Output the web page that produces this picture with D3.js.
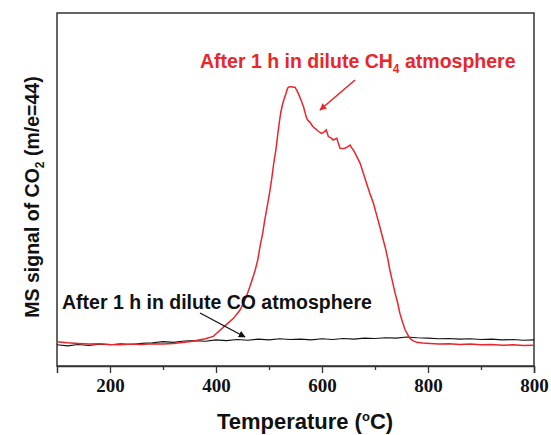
<!DOCTYPE html>
<html>
<head>
<meta charset="utf-8">
<script src="https://cdn.jsdelivr.net/npm/d3@7"></script>
<style>
  body { margin: 0; background: #fff; }
  text { font-family: "Liberation Sans", Arial, sans-serif; font-weight: bold; }
  .tick text { font-family: "Liberation Serif", "Times New Roman", serif; font-weight: bold; }
</style>
</head>
<body>
<script>
// temperature (°C) and MS signal (a.u.)
var ch4Temp = [100, 120, 140, 160, 180, 200, 220, 240, 260, 280, 300, 320, 340, 350, 365, 380, 395, 408,
  420, 433, 445, 452, 458, 464, 469, 474, 479, 483, 488, 492, 497, 502, 506, 509, 513, 516, 519, 522, 525,
  528, 532, 535, 538, 542, 546, 549, 552, 555, 560, 565, 568, 571, 574, 577, 582, 587, 593, 599, 603, 608,
  612, 617, 621, 625, 628, 631, 634, 639, 643, 648, 653, 656, 659, 665, 672, 678, 684, 690, 697, 703, 709,
  714, 719, 724, 728, 733, 738, 743, 747, 752, 757, 762, 766, 772, 779, 790, 804, 820, 840, 860, 880, 900,
  920, 940, 960, 980, 1000];
var ch4Signal = [0.69, 0.66, 0.64, 0.62, 0.63, 0.61, 0.60, 0.62, 0.61, 0.63, 0.62, 0.64, 0.67, 0.69, 0.73,
  0.77, 0.84, 1.02, 1.18, 1.35, 1.58, 1.78, 2.00, 2.25, 2.48, 2.72, 3.02, 3.38, 3.75, 4.14, 4.55, 4.99, 5.40,
  5.75, 6.12, 6.50, 6.85, 7.16, 7.38, 7.54, 7.72, 7.87, 7.91, 7.91, 7.90, 7.90, 7.82, 7.73, 7.55, 7.35, 7.18,
  7.02, 6.95, 6.91, 6.80, 6.73, 6.65, 6.59, 6.62, 6.69, 6.50, 6.46, 6.40, 6.43, 6.45, 6.30, 6.17, 6.16, 6.17,
  6.21, 6.26, 6.18, 6.12, 5.95, 5.74, 5.46, 5.18, 4.90, 4.61, 4.28, 3.95, 3.66, 3.38, 3.05, 2.72, 2.39, 2.06,
  1.77, 1.49, 1.24, 1.02, 0.88, 0.78, 0.71, 0.67, 0.65, 0.64, 0.62, 0.63, 0.61, 0.62, 0.60, 0.61, 0.59, 0.60,
  0.58, 0.59];

var coTemp = [100, 120, 140, 160, 180, 200, 220, 240, 260, 280, 300, 320, 340, 360, 380, 400, 420, 440, 460,
  480, 500, 520, 540, 560, 580, 600, 620, 640, 660, 680, 700, 720, 740, 760, 780, 800, 820, 840, 860, 880,
  900, 920, 940, 960, 980, 1000];
var coSignal = [0.60, 0.57, 0.61, 0.58, 0.62, 0.60, 0.63, 0.61, 0.64, 0.66, 0.69, 0.67, 0.71, 0.72, 0.70,
  0.74, 0.72, 0.75, 0.73, 0.76, 0.74, 0.77, 0.75, 0.76, 0.74, 0.77, 0.75, 0.78, 0.76, 0.79, 0.78, 0.80, 0.79,
  0.82, 0.80, 0.79, 0.77, 0.78, 0.76, 0.77, 0.75, 0.76, 0.74, 0.75, 0.73, 0.74];

var xTicks = [200, 400, 600, 800, 1000];
var xTickLabels = ["200", "400", "600", "800", "800"];
var xMinorTicks = [300, 500, 700, 900];

var width = 551, height = 435;
var margin = { top: 13, right: 17, bottom: 69, left: 57 };

var svg = d3.select("body").append("svg")
    .attr("width", width)
    .attr("height", height);

var x = d3.scaleLinear().domain([100, 1000]).range([margin.left, width - margin.right]);
var y = d3.scaleLinear().domain([0, 10]).range([height - margin.bottom, margin.top]);

// frame
svg.append("rect")
    .attr("x", x(100)).attr("y", y(10))
    .attr("width", x(1000) - x(100)).attr("height", y(0) - y(10))
    .attr("fill", "none").attr("stroke", "#333").attr("stroke-width", 1.5);

// bottom axis, major then minor ticks
var xAxis = svg.append("g")
    .attr("transform", "translate(0," + y(0) + ")")
    .call(d3.axisBottom(x).tickValues(xTicks).tickSize(7).tickPadding(6)
      .tickFormat(function(d, i) { return xTickLabels[i]; }));
xAxis.select(".domain").attr("stroke", "#333").attr("stroke-width", 1.5);
xAxis.selectAll(".tick line").attr("stroke", "#333").attr("stroke-width", 1.3);
xAxis.selectAll(".tick text").attr("fill", "#111").style("font-size", "19px");

svg.append("g")
    .attr("transform", "translate(0," + y(0) + ")")
    .call(d3.axisBottom(x).tickValues(xMinorTicks).tickSize(4).tickFormat(""))
    .call(function(g) { g.select(".domain").remove(); })
    .selectAll(".tick line").attr("stroke", "#333").attr("stroke-width", 1.3);

var line = d3.line()
    .x(function(d) { return x(d[0]); })
    .y(function(d) { return y(d[1]); });

svg.append("path")
    .datum(coTemp.map(function(t, i) { return [t, coSignal[i]]; }))
    .attr("d", line)
    .attr("fill", "none").attr("stroke", "#111").attr("stroke-width", 1.1);

svg.append("path")
    .datum(ch4Temp.map(function(t, i) { return [t, ch4Signal[i]]; }))
    .attr("d", line)
    .attr("fill", "none").attr("stroke", "#e8262b").attr("stroke-width", 1.5);

// arrow markers
var defs = svg.append("defs");
[["arrowRed", "#e8262b"], ["arrowBlack", "#111"]].forEach(function(m) {
  defs.append("marker")
      .attr("id", m[0])
      .attr("viewBox", "0 -5 10 10")
      .attr("refX", 9).attr("refY", 0)
      .attr("markerWidth", 7).attr("markerHeight", 7)
      .attr("markerUnits", "userSpaceOnUse")
      .attr("orient", "auto")
      .append("path")
      .attr("d", "M0,-5L10,0L0,5Z")
      .attr("fill", m[1]);
});

// labels
var redLabel = svg.append("text")
    .attr("x", 200).attr("y", 68)
    .attr("fill", "#e8262b")
    .style("font-size", "19.5px");
redLabel.append("tspan").text("After 1 h in dilute CH");
redLabel.append("tspan").attr("dy", 5).style("font-size", "12px").text("4");
redLabel.append("tspan").attr("dy", -5).text(" atmosphere");

svg.append("line")
    .attr("x1", 355).attr("y1", 80).attr("x2", 320).attr("y2", 110)
    .attr("stroke", "#e8262b").attr("stroke-width", 1.6)
    .attr("marker-end", "url(#arrowRed)");

svg.append("text")
    .attr("x", 62).attr("y", 309)
    .attr("fill", "#111")
    .style("font-size", "19.5px")
    .text("After 1 h in dilute CO atmosphere");

svg.append("line")
    .attr("x1", 200).attr("y1", 313).attr("x2", 245).attr("y2", 337)
    .attr("stroke", "#111").attr("stroke-width", 1.3)
    .attr("marker-end", "url(#arrowBlack)");

// axis titles
var xTitle = svg.append("text")
    .attr("x", 305).attr("y", 429)
    .attr("text-anchor", "middle")
    .attr("fill", "#111")
    .style("font-size", "22px");
xTitle.append("tspan").text("Temperature (");
xTitle.append("tspan").attr("dy", -8).style("font-size", "13px").text("o");
xTitle.append("tspan").attr("dy", 8).text("C)");

var yTitle = svg.append("text")
    .attr("transform", "translate(39,197) rotate(-90)")
    .attr("text-anchor", "middle")
    .attr("fill", "#111")
    .style("font-size", "19.5px");
yTitle.append("tspan").text("MS signal of CO");
yTitle.append("tspan").attr("dy", 5).style("font-size", "12px").text("2");
yTitle.append("tspan").attr("dy", -5).text(" (m/e=44)");
</script>
</body>
</html>
